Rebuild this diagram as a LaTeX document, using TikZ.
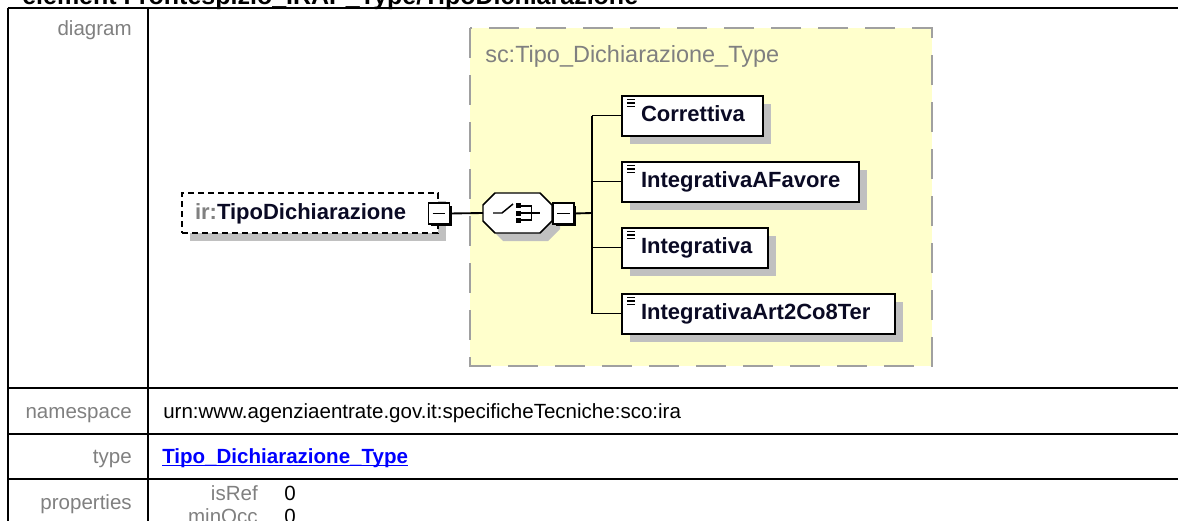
\documentclass[tikz,border=0pt]{standalone}
\usepackage{fontspec}
\setmainfont{Liberation Sans}
\usepackage{tikz}
\usetikzlibrary{
    positioning,
    shadows,
    calc
}
\definecolor{labelgray}{HTML}{808080}
\definecolor{scfill}{HTML}{FFFFCC}
\definecolor{scborder}{HTML}{A0A0A0}
\definecolor{shadowgray}{HTML}{C0C0C0}
\definecolor{elemtext}{HTML}{0A0A24}
\definecolor{linkblue}{HTML}{0000FF}
\newcommand{\tabfont}{\fontsize{15.4pt}{18pt}\selectfont}
\newcommand{\elemfont}{\fontsize{16.5pt}{19pt}\selectfont\bfseries}
\newcommand{\elicon}[1]{%
    \foreach \dy in {4,7.5,11}
        \draw[line width=0.9pt] ([shift={(5,\dy)}]#1.north west) -- ++(8,0);}
\tikzset{
    octa/.pic={
        \path[pic actions] (-22.5,-20) -- (22.5,-20) -- (34.5,-8) -- (34.5,8)
            -- (22.5,20) -- (-22.5,20) -- (-34.5,8) -- (-34.5,-8) -- cycle;
    }
}
\tikzstyle{element} = [
    rectangle,
    draw=black,
    line width=1.5pt,
    fill=white,
    minimum height=30pt,
    inner xsep=14.25pt,
    inner ysep=0pt,
    outer sep=0pt,
    text height=12.5pt,
    text depth=3.5pt,
    align=left,
    anchor=west,
    font=\elemfont,
    text=elemtext,
    drop shadow={shadow xshift=6pt, shadow yshift=-6pt, fill=shadowgray, opacity=1}
]
\tikzstyle{refelement} = [
    element,
    line width=1.1pt,
    dash pattern=on 4.5pt off 3pt,
    inner xsep=9.75pt
]
\tikzstyle{toggle} = [
    rectangle,
    draw=black,
    line width=1.2pt,
    fill=white,
    minimum size=15.5pt,
    inner sep=0pt,
    outer sep=0pt,
    drop shadow={shadow xshift=1.8pt, shadow yshift=-1.8pt, fill=black, opacity=1},
    path picture={\draw[line width=1.1pt]
        ([xshift=3pt]path picture bounding box.west) --
        ([xshift=-3pt]path picture bounding box.east);}
]
\tikzstyle{choice} = [
    rectangle,
    minimum width=51.75pt,
    minimum height=30pt,
    inner sep=0pt,
    outer sep=0pt
]
\tikzstyle{conn} = [
    draw=black,
    line width=1.4pt
]
\tikzstyle{scbox} = [
    draw=scborder,
    fill=scfill,
    line width=1.5pt,
    dash pattern=on 22.5pt off 12.75pt
]
\tikzstyle{lbl} = [
    font=\tabfont,
    text=labelgray,
    anchor=base east,
    inner sep=0pt
]
\tikzstyle{val} = [
    font=\tabfont,
    anchor=base west,
    inner sep=0pt
]
\tikzstyle{rule} = [
    draw=black,
    line width=1.5pt
]

\begin{document}
\begin{tikzpicture}[x=0.75pt, y=-0.75pt]
    \clip (0,0) rectangle (1178,521);
    \fill[white] (0,0) rectangle (1178,521);

    % Heading, cut at the top
    \node[anchor=base west, inner sep=0pt, font=\fontsize{18.75pt}{22pt}\selectfont\bfseries] (title) at (22,4.5)
        {element Frontespizio\_IRAP\_Type/TipoDichiarazione};

    % Table
    \draw[rule] (7.6,7.5) -- (1190,7.5);
    \draw[rule] (7.6,388) -- (1190,388);
    \draw[rule] (7.6,434) -- (1190,434);
    \draw[rule] (7.6,479) -- (1190,479);
    \draw[rule] (7.6,7.5) -- (7.6,530);
    \draw[rule] (147.5,7.5) -- (147.5,530);

    \node[lbl] (ldiagram) at (132,36) {diagram};
    \node[lbl] (lnamespace) at (132,418.5) {namespace};
    \node[val] (vnamespace) at (163,418.5) {urn:www.agenziaentrate.gov.it:specificheTecniche:sco:ira};
    \node[lbl] (ltype) at (132,463) {type};
    \node[val, font=\tabfont\bfseries, text=linkblue] (vtype) at (162,463)
        {\underline{\smash{Tipo\_Dichiarazione\_Type}}};
    \node[lbl] (lproperties) at (132,509) {properties};
    \node[lbl] (lisref) at (258,500) {isRef};
    \node[val] (visref) at (284,500) {0};
    \node[lbl] (lminocc) at (258,523) {minOcc};
    \node[val] (vminocc) at (284,523) {0};

    % Complex type frame
    \draw[scbox] (470,28) rectangle (932,366);
    \node[anchor=base west, inner sep=0pt, font=\fontsize{17.6pt}{20pt}\selectfont, text=labelgray] (sctype) at (485,62)
        {sc:Tipo\_Dichiarazione\_Type};

    % Referenced element and choice
    \node[refelement, text width=172.5pt] (tipo) at (182,213)
        {\textcolor{labelgray}{ir:}TipoDichiarazione};
    \node[toggle] (tog1) at (439,213.5) {};
    \node[choice] (choice) at (517.5,213) {};
    \begin{scope}[shift={(choice.center)}, line width=1.1pt]
        \pic[fill=shadowgray] at (8,8) {octa};
        \pic[draw=black, fill=white] {octa};
        \draw (-24.5,0) -- (-15.5,0) -- (-4.5,-9);
        \fill (-1.5,-10) rectangle (3.5,-5);
        \fill (-1.5,-2.5) rectangle (3.5,2.5);
        \fill (-1.5,5) rectangle (3.5,10);
        \draw (3.5,-7) -- (14,-7) -- (14,7) -- (3.5,7);
        \draw (3.5,0) -- (22.5,0);
    \end{scope}
    \node[toggle] (tog2) at (563.5,213.5) {};

    % Children
    \node[element, text width=77.25pt] (corr) at (622,115.5) {Correttiva};
    \node[element, text width=149.25pt, below=19.5pt of corr.south west, anchor=north west] (favore) {IntegrativaAFavore};
    \node[element, text width=81pt, below=19.5pt of favore.south west, anchor=north west] (integ) {Integrativa};
    \node[element, text width=176.25pt, below=19.5pt of integ.south west, anchor=north west] (art) {IntegrativaArt2Co8Ter};
    \elicon{corr}
    \elicon{favore}
    \elicon{integ}
    \elicon{art}

    % Connectors
    \coordinate (bus) at (592,213);
    \draw[conn] (tog1.east) -- (choice.west);
    \draw[conn] (tog2.east) -- (bus);
    \draw[conn] (bus |- corr.west) -- (bus |- art.west);
    \foreach \n in {corr,favore,integ,art}
        \draw[conn] (bus |- \n.west) -- (\n.west);
\end{tikzpicture}
\end{document}
